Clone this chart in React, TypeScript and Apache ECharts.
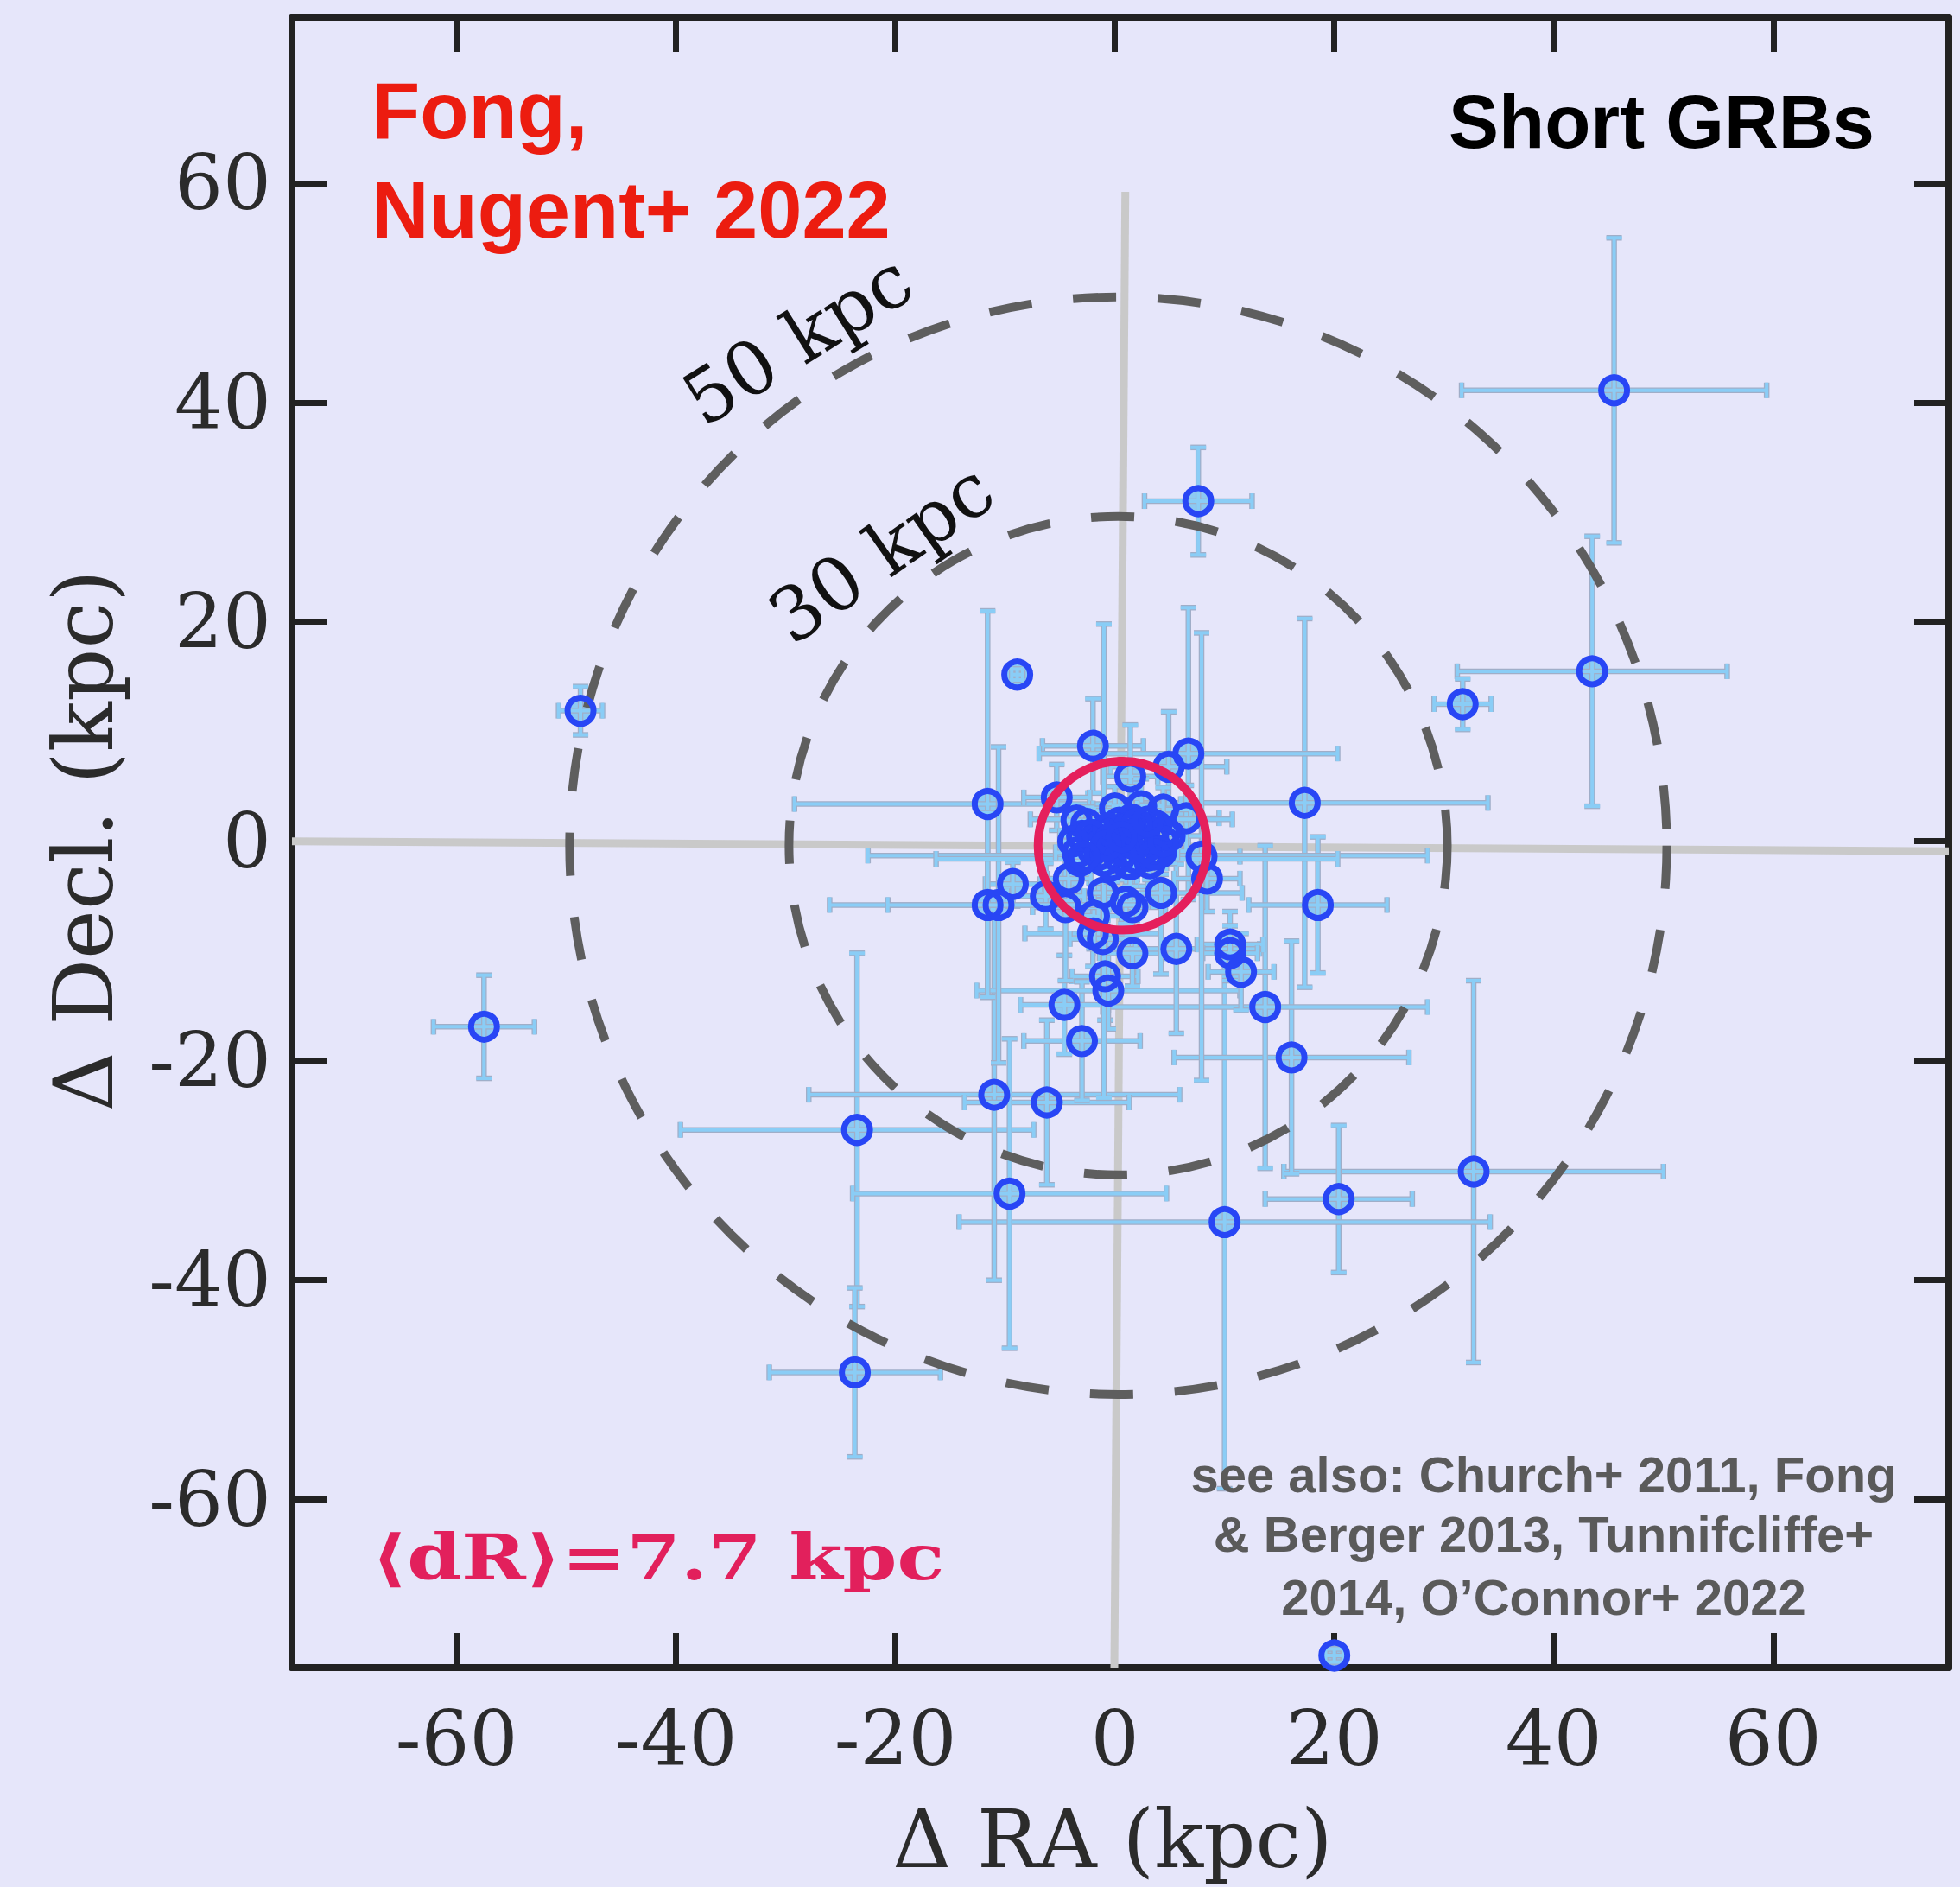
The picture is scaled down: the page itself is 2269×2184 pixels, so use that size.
import React, { useEffect, useRef } from "react";
import * as echarts from "echarts";

const W = 2269;
const H = 2184;

// ---- data (kpc) ----
const raKpc = [
  45.5, 7.6, 43.5, 31.7, -48.7, -57.5, -23.5, -23.7, 20.0, 32.7,
  20.4, 10.0, 16.1, 13.7, 18.5, 17.3, -8.9, -11.6, -2.0, 6.7,
  4.9, 1.4, -5.3, -11.0, -6.2, -9.6, -3.0, -4.6, -0.9, -0.6,
  1.6, 5.6, 10.5, 10.5, 11.5, -2.0, -1.1, -1.9, 1.6, 1.0,
  -1.1, 4.2, -4.5, -6.3, -4.2, -9.3, -11.6, -10.6, 8.4, 7.9,
  5.0, 6.5, 4.4, 2.4, 0.0, 3.0, 2.0, 1.5, -1.0, -3.0,
  -2.0, -1.0, 0.0, 1.0, 2.5, 3.5, 4.2, -2.6, 0.4, 1.4,
  -0.3, 3.2, -3.4, 4.6, -1.6, 0.9, 2.2, -0.6, 3.8, -3.5,
  -3.8, -3.2, -2.2, -1.4, -0.4, 0.4, 1.2, 1.8, 2.8, 3.6,
  4.4, 2.0, -0.8, 0.6, 3.0, -2.8,
];
const declKpc = [
  41.1, 31.0, 15.5, 12.5, 11.9, -16.9, -26.3, -48.4, -74.2, -30.1,
  -32.6, -34.7, -19.7, -15.1, -5.8, 3.5, 15.2, 3.4, 8.7, 8.0,
  6.8, 5.9, 4.0, -23.1, -23.8, -32.1, -18.2, -14.9, -12.3, -13.6,
  -10.2, -9.8, -9.4, -10.2, -11.9, -8.4, -8.9, -6.8, -6.0, -5.5,
  -4.7, -4.7, -6.0, -5.0, -3.4, -3.9, -5.8, -5.8, -3.4, -1.4,
  0.5, 2.1, 2.9, 3.2, 3.0, -1.3, -1.6, 2.0, -1.8, 0.5,
  -0.8, 0.8, -0.5, 0.6, 1.0, 0.2, -1.0, 1.6, 1.7, -2.1,
  -2.2, -2.0, -1.0, 0.9, 0.2, -0.9, 0.0, 1.2, 1.4, 1.9,
  0.0, -1.8, 0.6, -1.2, 0.2, -1.5, 1.2, -0.3, -0.6, -1.2,
  0.0, 1.6, -0.4, 0.4, 1.8, -1.4,
];
const raErr = [
  13.9, 4.9, 12.3, 2.6, 2.0, 4.6, 16.1, 7.8, 0.8, 17.3,
  6.7, 24.2, 10.7, 14.8, 6.3, 16.7, 0.5, 17.6, 4.6, 13.6,
  5.3, 2.5, 3.0, 16.9, 7.5, 14.3, 5.3, 4.0, 3.0, 12.0,
  3.0, 7.6, 3.0, 2.5, 3.0, 6.2, 3.0, 2.5, 3.0, 2.0,
  2.5, 7.4, 3.0, 3.5, 2.0, 2.5, 14.4, 10.1, 3.0, 3.5,
  3.0, 3.0, 2.5, 2.0, 2.0, 25.5, 18.3, 9.2, 3.0, 2.0,
  1.5, 2.0, 1.5, 2.0, 1.5, 2.0, 1.5, 1.5, 1.5, 2.0,
  1.5, 1.5, 2.0, 1.5, 1.0, 1.0, 1.0, 1.0, 1.0, 1.0,
  1.2, 1.0, 1.5, 1.0, 1.2, 1.0, 1.5, 1.0, 1.2, 1.0,
  1.5, 1.0, 1.0, 1.2, 1.0, 1.5,
];
const declErr = [
  13.9, 4.9, 12.3, 2.3, 2.2, 4.7, 16.1, 7.7, 0.6, 17.4,
  6.7, 24.3, 10.6, 14.7, 6.2, 16.8, 0.5, 17.6, 4.3, 13.3,
  5.0, 4.7, 3.0, 16.9, 7.5, 14.1, 5.4, 4.5, 4.0, 3.5,
  3.0, 7.7, 3.0, 2.5, 3.5, 3.0, 4.0, 3.0, 2.5, 2.0,
  2.5, 7.4, 6.7, 3.0, 2.0, 2.0, 8.4, 14.4, 3.0, 20.4,
  2.5, 3.0, 2.0, 2.5, 2.0, 3.0, 2.5, 3.0, 21.6, 2.0,
  1.5, 2.0, 1.5, 1.5, 2.0, 1.5, 2.0, 1.5, 1.5, 2.0,
  1.5, 1.5, 2.0, 1.5, 1.0, 1.0, 1.0, 1.0, 1.0, 1.0,
  1.0, 1.2, 1.0, 1.5, 1.0, 1.2, 1.0, 1.5, 1.0, 1.2,
  1.0, 1.5, 1.2, 1.0, 1.5, 1.0,
];

const tickValues = [-60, -40, -20, 0, 20, 40, 60];
const xRange = [-75.0, 76.0];
const yRange = [-75.3, 75.1];
const ringCenter = [0.3, -0.4];
const ringRadii = [30, 50];
const ringLabels = ["30 kpc", "50 kpc"];
const meanCenter = [0.7, -0.4];
const meanRadius = 7.7;
const crossHorizontal = [[-75.0, 0.0], [76.0, -0.9]];
const crossVertical = [[0.95, 59.2], [-0.05, -75.3]];

const BG = "#E6E6FA";
const AX = "#222222";

export default function App() {
  const ref = useRef<HTMLDivElement | null>(null);

  useEffect(() => {
    document.body.style.margin = "0";
    document.body.style.background = BG;
    if (!ref.current) return;
    const chart = echarts.init(ref.current, undefined, { renderer: "svg" });

    const points = raKpc.map((x, i) => [x, declKpc[i], raErr[i], declErr[i]]);

    const axisCommon = (pos: string, labels: boolean) => ({
      type: "value",
      position: pos,
      axisLine: { show: true, onZero: false, lineStyle: { color: AX, width: 8 } },
      axisTick: {
        show: true,
        inside: true,
        length: 40,
        customValues: tickValues,
        lineStyle: { color: AX, width: 7 },
      },
      axisLabel: {
        show: labels,
        customValues: tickValues,
        fontFamily: "DejaVu Serif",
        fontSize: 88,
        color: "#2B2B2B",
        margin: pos === "bottom" ? 38 : 24,
      },
      splitLine: { show: false },
    });

    const barRender = (params: any, api: any) => {
      const x = api.value(0), y = api.value(1), xe = api.value(2), ye = api.value(3);
      const l = api.coord([x - xe, y]);
      const r = api.coord([x + xe, y]);
      const t = api.coord([x, y + ye]);
      const b = api.coord([x, y - ye]);
      const cap = 9;
      const segs = [
        [l[0], l[1], r[0], r[1]],
        [t[0], t[1], b[0], b[1]],
        [l[0], l[1] - cap, l[0], l[1] + cap],
        [r[0], r[1] - cap, r[0], r[1] + cap],
        [t[0] - cap, t[1], t[0] + cap, t[1]],
        [b[0] - cap, b[1], b[0] + cap, b[1]],
      ];
      const children: any[] = [];
      segs.forEach((s) =>
        children.push({
          type: "line",
          shape: { x1: s[0], y1: s[1], x2: s[2], y2: s[3] },
          style: { stroke: "#A0AEC8", lineWidth: 6.5 },
        })
      );
      segs.forEach((s) =>
        children.push({
          type: "line",
          shape: { x1: s[0], y1: s[1], x2: s[2], y2: s[3] },
          style: { stroke: "#8ACDF6", lineWidth: 4 },
        })
      );
      return { type: "group", children };
    };

    const circleRender = (stroke: string, width: number, dash: number[] | null) =>
      (params: any, api: any) => {
        const c = api.coord([api.value(0), api.value(1)]);
        const r = api.size([api.value(2), 0])[0];
        return {
          type: "circle",
          shape: { cx: c[0], cy: c[1], r },
          style: { fill: "none", stroke, lineWidth: width, lineDash: dash || undefined },
        };
      };

    const textBase = (family: string, size: number, weight: string, fill: string) => ({
      fontFamily: family,
      fontSize: size,
      fontWeight: weight,
      fill,
    });

    const option: any = {
      animation: false,
      backgroundColor: BG,
      grid: { left: 338, right: 13, top: 20, bottom: 254, containLabel: false },
      xAxis: [
        { ...axisCommon("bottom", true), min: xRange[0], max: xRange[1] },
        { ...axisCommon("top", false), min: xRange[0], max: xRange[1] },
      ],
      yAxis: [
        { ...axisCommon("left", true), min: yRange[0], max: yRange[1] },
        { ...axisCommon("right", false), min: yRange[0], max: yRange[1] },
      ],
      series: [
        {
          type: "line",
          data: crossHorizontal,
          symbol: "none",
          silent: true,
          lineStyle: { color: "#C9C9C9", width: 9 },
          z: 1,
        },
        {
          type: "line",
          data: crossVertical,
          symbol: "none",
          silent: true,
          lineStyle: { color: "#C9C9C9", width: 9 },
          z: 1,
        },
        {
          type: "scatter",
          data: points.map((p) => [p[0], p[1]]),
          symbol: "circle",
          symbolSize: 30,
          itemStyle: { color: "#8DC9F2", borderWidth: 0, opacity: 1 },
          z: 2,
        },
        {
          type: "custom",
          data: points,
          encode: { x: 0, y: 1 },
          renderItem: barRender,
          z: 3,
        },
        {
          type: "custom",
          data: ringRadii.map((r) => [ringCenter[0], ringCenter[1], r]),
          encode: { x: 0, y: 1 },
          renderItem: circleRender("#5E5E5E", 10, [50, 48]),
          z: 4,
        },
        {
          type: "scatter",
          data: points.map((p) => [p[0], p[1]]),
          symbol: "circle",
          symbolSize: 30,
          itemStyle: { color: "rgba(0,0,0,0)", borderColor: "#2846F5", borderWidth: 7, opacity: 1 },
          z: 5,
        },
        {
          type: "custom",
          data: [[meanCenter[0], meanCenter[1], meanRadius]],
          encode: { x: 0, y: 1 },
          renderItem: circleRender("#E51F5C", 10, null),
          z: 6,
        },
      ],
      graphic: [
        {
          type: "text", x: 430, y: 128, z: 10,
          style: { text: "Fong,", ...textBase("Liberation Sans", 92, "bold", "#EC1C10"), align: "left", verticalAlign: "middle" },
        },
        {
          type: "text", x: 430, y: 243, z: 10,
          style: { text: "Nugent+ 2022", ...textBase("Liberation Sans", 92, "bold", "#EC1C10"), align: "left", verticalAlign: "middle" },
        },
        {
          type: "text", x: 2170, y: 140, z: 10,
          style: { text: "Short GRBs", ...textBase("Liberation Sans", 87, "bold", "#000000"), align: "right", verticalAlign: "middle" },
        },
        {
          type: "text", x: 923, y: 393, z: 10, rotation: (32 * Math.PI) / 180,
          style: { text: ringLabels[1], ...textBase("DejaVu Serif", 86, "normal", "#111111"), align: "center", verticalAlign: "middle" },
        },
        {
          type: "text", x: 1020, y: 640, z: 10, rotation: (35 * Math.PI) / 180,
          style: { text: ringLabels[0], ...textBase("DejaVu Serif", 86, "normal", "#111111"), align: "center", verticalAlign: "middle" },
        },
        {
          type: "text", x: 430, y: 1838, z: 10, scaleY: 0.8,
          style: { text: "⟨dR⟩=7.7 kpc", ...textBase("DejaVu Serif", 90, "bold", "#E2205C"), align: "left", verticalAlign: "bottom" },
        },
        {
          type: "text", x: 1787, y: 1706, z: 10,
          style: { text: "see also: Church+ 2011, Fong", ...textBase("Liberation Sans", 58, "bold", "#5A5A5A"), align: "center", verticalAlign: "middle" },
        },
        {
          type: "text", x: 1787, y: 1775, z: 10,
          style: { text: "& Berger 2013, Tunnifcliffe+", ...textBase("Liberation Sans", 58, "bold", "#5A5A5A"), align: "center", verticalAlign: "middle" },
        },
        {
          type: "text", x: 1787, y: 1848, z: 10,
          style: { text: "2014, O’Connor+ 2022", ...textBase("Liberation Sans", 58, "bold", "#5A5A5A"), align: "center", verticalAlign: "middle" },
        },
        {
          type: "text", x: 1288, y: 2128, z: 10,
          style: { text: "Δ RA (kpc)", ...textBase("DejaVu Serif", 94, "normal", "#2B2B2B"), align: "center", verticalAlign: "middle" },
        },
        {
          type: "text", x: 97, y: 973, z: 10, rotation: Math.PI / 2,
          style: { text: "Δ Decl. (kpc)", ...textBase("DejaVu Serif", 96, "normal", "#2B2B2B"), align: "center", verticalAlign: "middle" },
        },
      ],
    };

    chart.setOption(option);
    return () => chart.dispose();
  }, []);

  return <div ref={ref} style={{ width: W, height: H, background: BG }} />;
}
